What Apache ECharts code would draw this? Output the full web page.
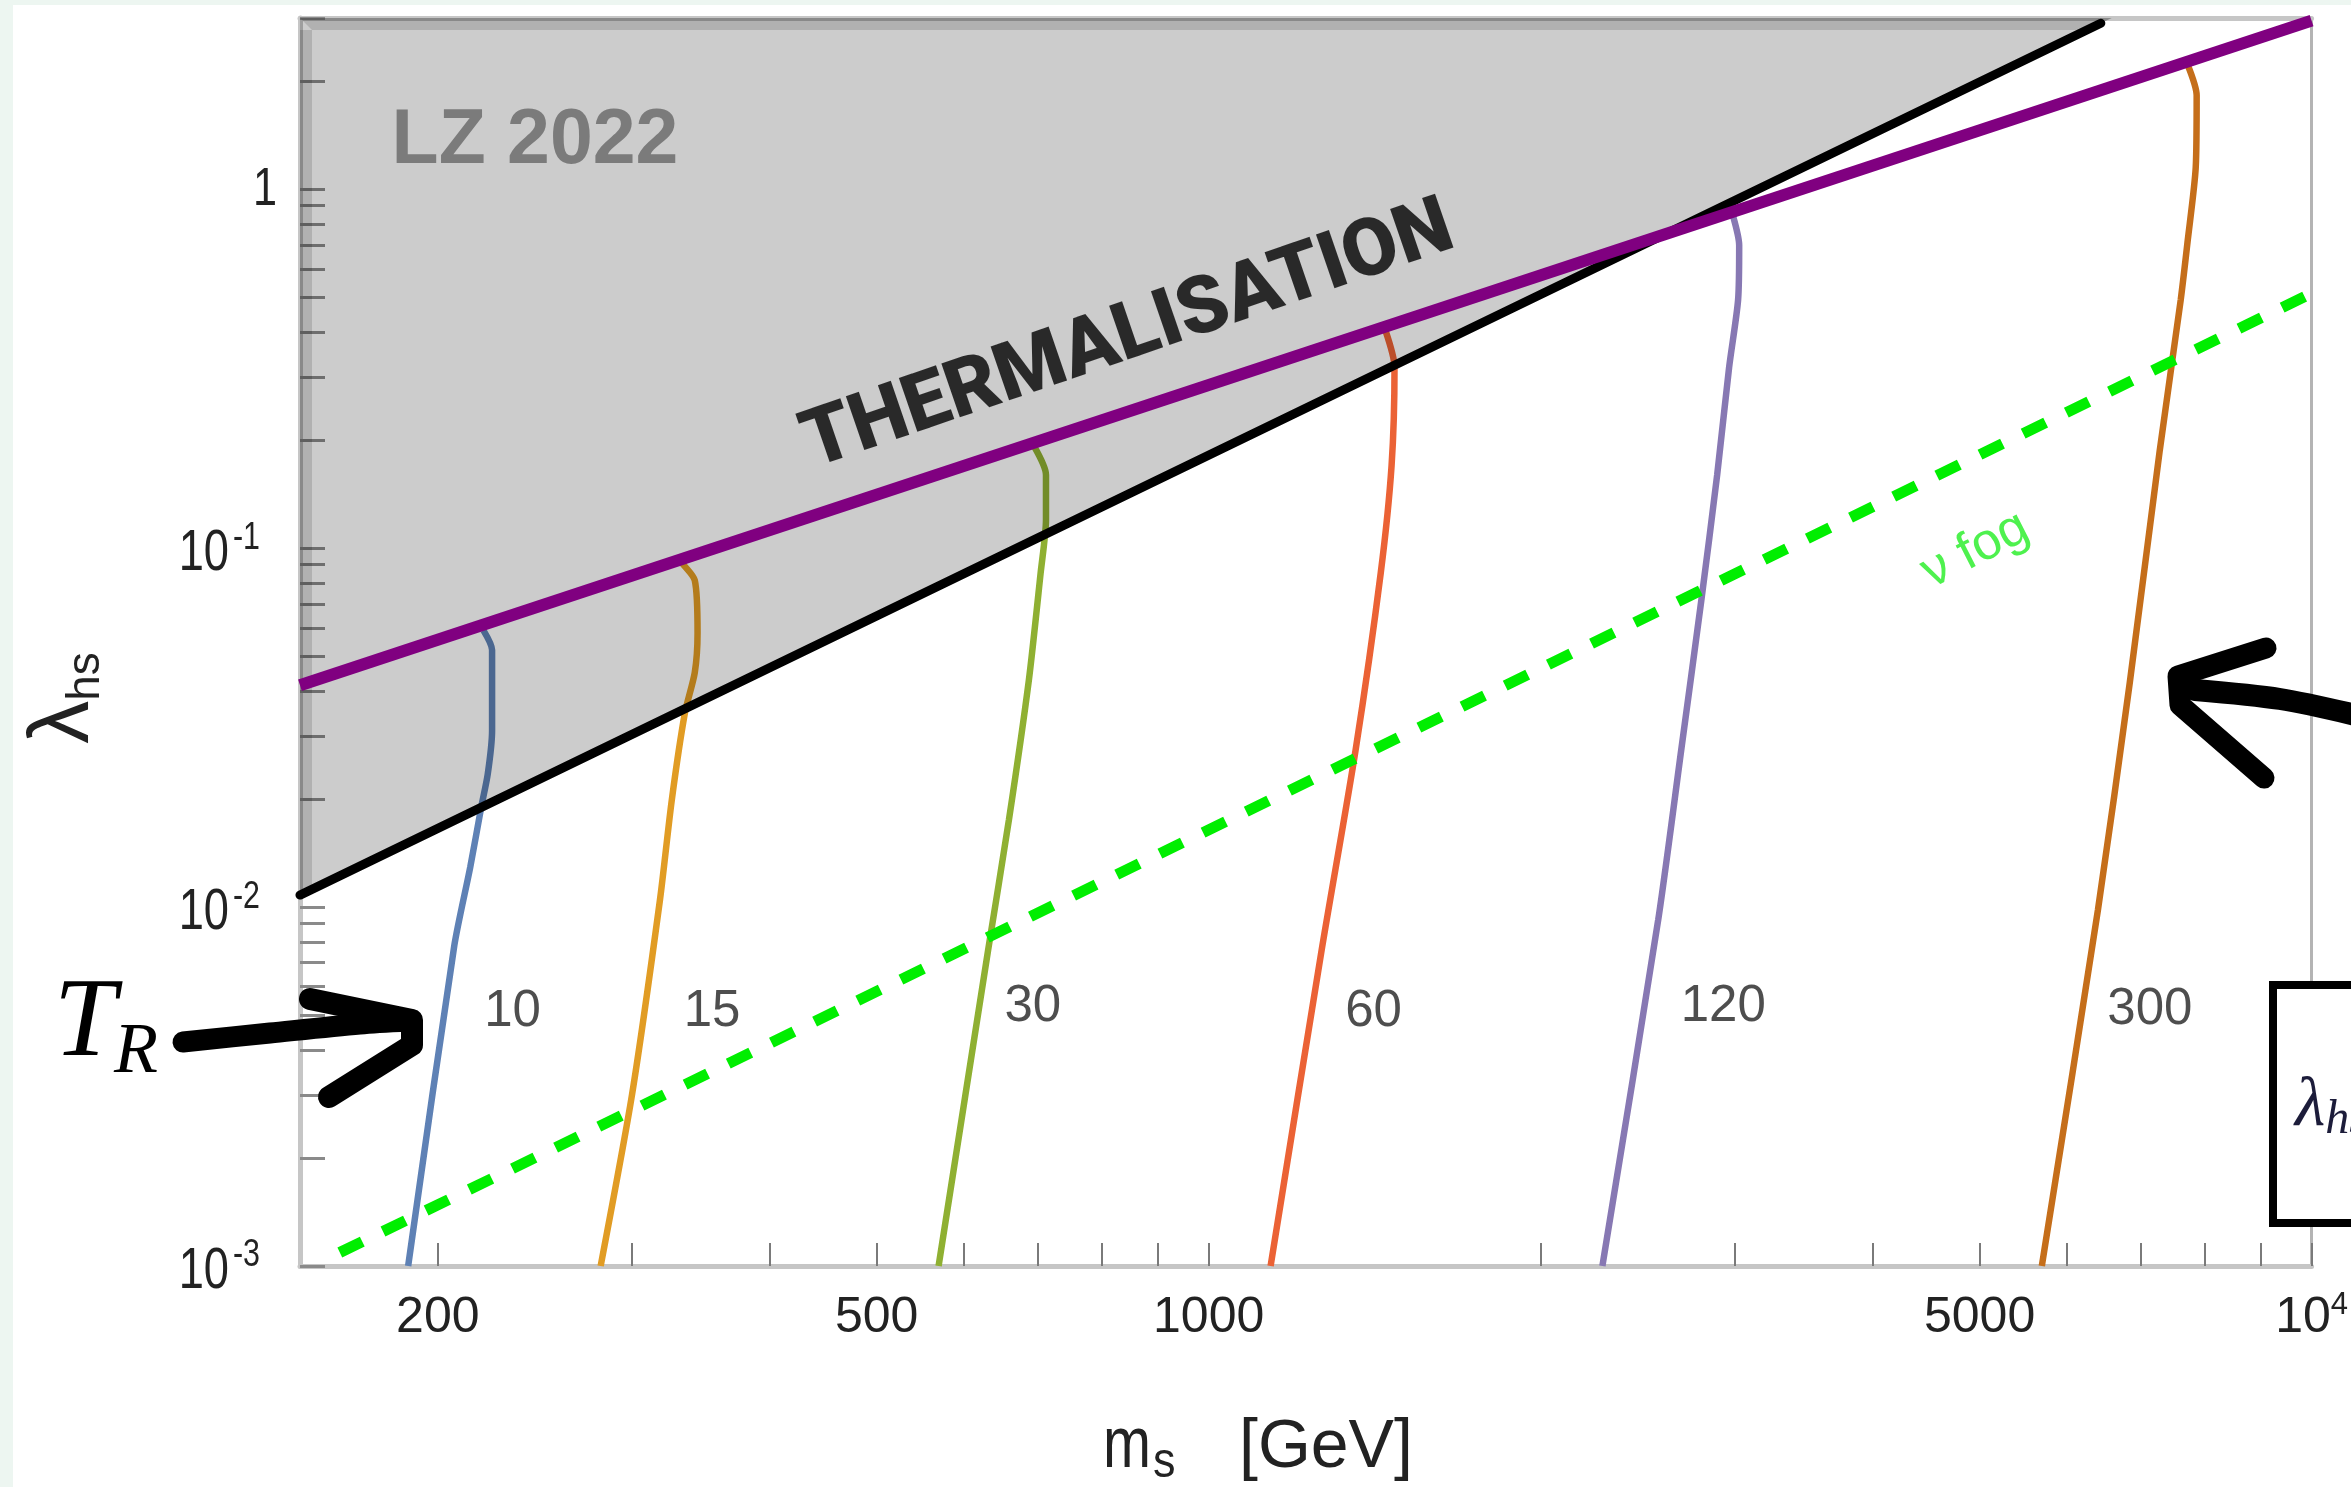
<!DOCTYPE html>
<html>
<head>
<meta charset="utf-8">
<script src="https://cdn.jsdelivr.net/npm/echarts@6/dist/echarts.min.js"></script>
<style>
html,body{margin:0;padding:0;background:#edf6f1;}
#chart{width:2351px;height:1487px;}
</style>
</head>
<body>
<div id="chart"></div>
<script>
// ---------------- data ----------------
const X_MIN = 150, X_MAX = 10000;
const Y_MIN = 0.001, Y_MAX = 3;
const X_TICKS = [200,300,400,500,600,700,800,900,1000,2000,3000,4000,5000,6000,7000,8000,9000,10000];
const X_LABELS = [200,500,1000,5000,10000];
const Y_TICKS = [0.001,0.002,0.003,0.004,0.005,0.006,0.007,0.008,0.009,
                 0.01,0.02,0.03,0.04,0.05,0.06,0.07,0.08,0.09,
                 0.1,0.2,0.3,0.4,0.5,0.6,0.7,0.8,0.9,1,2,3];
const Y_LABELS = [0.001,0.01,0.1,1];

// reheating temperature curves T_R (GeV): [m_s, lambda_hs]
const T_NAMES  = ['10','15','30','60','120','300'];
const T_COLORS = ['#5E81B5','#E19C24','#8FB032','#EB6235','#8778B3','#C56E1A'];
const T10  = [[188,0.001],[207,0.0078],[214,0.0129],[219,0.019],[222,0.0235],[224,0.031],[224,0.052],[220,0.059]];
const T15  = [[281,0.001],[300,0.003],[318,0.01045],[326,0.0199],[335,0.0347],[342,0.045],[344,0.058],[342,0.0814],[332,0.0915]];
const T30  = [[569,0.001],[631,0.00759],[659,0.0175],[687,0.0429],[704,0.085],[712,0.12],[712,0.16],[694,0.193]];
const T60  = [[1138,0.001],[1266,0.00759],[1359,0.0274],[1432,0.085],[1465,0.17],[1474,0.32],[1446,0.405]];
const T120 = [[2275,0.001],[2556,0.0092],[2682,0.0274],[2797,0.0716],[2891,0.16],[2964,0.319],[3020,0.491],[3027,0.698],[2989,0.84]];
const T300 = [[5694,0.001],[6401,0.0098],[6841,0.0421],[7284,0.1875],[7609,0.491],[7722,0.721],[7852,1.152],[7867,1.827],[7722,2.22]];
const T_CURVES = [T10,T15,T30,T60,T120,T300];
const T_LABEL_POS = [[233.8,0.0051],[354.6,0.0051],[692.7,0.00526],[1411,0.0051],[2928,0.00526],[7134,0.00516]];

// bounds
const THERMALISATION = [[150,0.0415],[10000,2.95]];
const LZ2022 = [[150,0.0108],[6440,2.90]];
const NU_FOG = [[163,0.00109],[10000,0.513]];

// annotation anchors (data coordinates)
const LZ_TEXT_POS = [245,1.36];
const THERM_TEXT_POS = [846,0.385];
const FOG_TEXT_POS = [4955,0.0987];

// ---------------- chart ----------------
const SANS = '"Liberation Sans", Arial, sans-serif';
const SERIF = '"Liberation Serif", "DejaVu Serif", serif';

const chart = echarts.init(document.getElementById('chart'), null, {renderer:'canvas'});

const curveSeries = T_CURVES.map((pts,i)=>({
  type:'line', name:'T' + T_NAMES[i], data:pts, symbol:'none', showSymbol:false,
  smooth:0.25, z:2, silent:true, clip:true,
  lineStyle:{color:T_COLORS[i], width:6.5}
}));

const overlaySeries = {
  type:'custom', z:3, silent:true, clip:false,
  data:[LZ2022[0]],
  renderItem:function(params, api){
    const p0 = api.coord(LZ2022[0]);
    const p1 = api.coord(LZ2022[1]);
    const tl = api.coord([X_MIN, Y_MAX]);
    const left = tl[0], top = tl[1];
    const s = (p1[0]-p0[0])/(p1[1]-p0[1]);
    const xTop = p1[0] + (top - p1[1]) * s;
    const bw = 12;
    const xBand = p1[0] + (top + bw - p1[1]) * s;
    const yBand = p0[1] + bw / s;
    return {type:'group', children:[
      {type:'polygon', shape:{points:[p0,[xTop,top],[left,top]]}, style:{fill:'rgba(0,0,0,0.2)'}},
      {type:'polygon', shape:{points:[[left,top],[xTop,top],[xBand,top+bw],[left+bw,top+bw]]}, style:{fill:'rgba(0,0,0,0.13)'}},
      {type:'polygon', shape:{points:[[left,top+bw],[left+bw,top+bw],[left+bw,yBand],[left,p0[1]]]}, style:{fill:'rgba(0,0,0,0.13)'}}
    ]};
  }
};

const baseGraphic = [
  {type:'rect', z:-100, silent:true, shape:{x:13, y:5, width:2338, height:1482}, style:{fill:'#ffffff'}},
  // y axis title
  {type:'text', z:100, x:64, y:698, rotation:Math.PI/2, silent:true,
   style:{text:'{l|λ}{s|hs}', align:'center', verticalAlign:'middle',
     rich:{l:{fontSize:86, fontFamily:SANS, fill:'#222', lineHeight:90},
           s:{fontSize:46, fontFamily:SANS, fill:'#222', lineHeight:46, verticalAlign:'bottom'}}}},
  // x axis title
  {type:'text', z:100, x:1103, y:1447, scaleX:0.8, silent:true,
   style:{text:'m', fontSize:72, fontFamily:SANS, fill:'#222', align:'left', verticalAlign:'middle'}},
  {type:'text', z:100, x:1153, y:1463, scaleX:0.9, silent:true,
   style:{text:'s', fontSize:50, fontFamily:SANS, fill:'#222', align:'left', verticalAlign:'middle'}},
  {type:'text', z:100, x:1239, y:1448, silent:true,
   style:{text:'[GeV]', fontSize:68, fontFamily:SANS, fill:'#222', align:'left', verticalAlign:'middle'}},
  // T_R annotation
  {type:'text', z:100, x:85, y:1026, silent:true,
   style:{text:'T', fontSize:112, fontStyle:'italic', fontFamily:SERIF, fill:'#000', align:'center', verticalAlign:'middle'}},
  {type:'text', z:100, x:136, y:1053, silent:true,
   style:{text:'R', fontSize:72, fontStyle:'italic', fontFamily:SERIF, fill:'#000', align:'center', verticalAlign:'middle'}},
  {type:'polyline', z:100, silent:true,
   shape:{points:[[183,1042],[270,1033],[360,1024],[408,1021]], smooth:0.3},
   style:{stroke:'#000', lineWidth:21, lineCap:'round', lineJoin:'round', fill:null}},
  {type:'polyline', z:100, silent:true,
   shape:{points:[[310,999],[412,1020],[412,1045],[329,1097]]},
   style:{stroke:'#000', lineWidth:22, lineCap:'round', lineJoin:'round', fill:null}},
  // right arrow
  {type:'polyline', z:100, silent:true,
   shape:{points:[[2195,690],[2280,699],[2360,716]], smooth:0.3},
   style:{stroke:'#000', lineWidth:22, lineCap:'round', lineJoin:'round', fill:null}},
  {type:'polyline', z:100, silent:true,
   shape:{points:[[2266,648],[2178,676],[2180,705],[2264,778]]},
   style:{stroke:'#000', lineWidth:21, lineCap:'round', lineJoin:'round', fill:null}},
  // right box
  {type:'rect', z:100, silent:true, shape:{x:2273, y:985, width:150, height:238},
   style:{fill:'#fff', stroke:'#000', lineWidth:8}},
  {type:'text', z:101, x:2295, y:1107, silent:true,
   style:{text:'{l|λ}{s|hs}', align:'left', verticalAlign:'middle',
     rich:{l:{fontSize:70, fontStyle:'italic', fontFamily:SERIF, fill:'#1c1c3a', lineHeight:74},
           s:{fontSize:48, fontStyle:'italic', fontFamily:SERIF, fill:'#1c1c3a', lineHeight:48, verticalAlign:'bottom'}}}}
];

const option = {
  animation:false,
  backgroundColor:'#edf6f1',
  grid:{left:300, right:37, top:18, bottom:221, containLabel:false},
  xAxis:[{
    type:'log', logBase:10, min:X_MIN, max:X_MAX, position:'bottom',
    axisLine:{show:true, onZero:false, lineStyle:{color:'#c6c6c6', width:5}},
    axisTick:{show:true, inside:true, length:23, customValues:X_TICKS, lineStyle:{color:'#7a7a7a', width:2}},
    axisLabel:{show:true, customValues:X_LABELS, margin:24,
      formatter:function(v){
        if (Math.abs(v - 10000) < 1) return '{b|10}{s|4}';
        return '{b|' + Math.round(v) + '}';
      },
      rich:{
        b:{fontSize:50, fontFamily:SANS, color:'#222', lineHeight:56},
        s:{fontSize:31, fontFamily:SANS, color:'#222', lineHeight:28, verticalAlign:'top'}
      }
    },
    splitLine:{show:false}, minorTick:{show:false}, minorSplitLine:{show:false}
  },{
    type:'log', logBase:10, min:X_MIN, max:X_MAX, position:'top',
    axisLine:{show:true, onZero:false, lineStyle:{color:'#c6c6c6', width:5}},
    axisTick:{show:false}, axisLabel:{show:false}, splitLine:{show:false}
  }],
  yAxis:[{
    type:'log', logBase:10, min:Y_MIN, max:Y_MAX, position:'left',
    axisLine:{show:true, onZero:false, lineStyle:{color:'#c6c6c6', width:5}},
    axisTick:{show:true, inside:true, length:25, customValues:Y_TICKS, lineStyle:{color:'#8a8a8a', width:3}},
    axisLabel:{show:false},
    splitLine:{show:false}, minorTick:{show:false}, minorSplitLine:{show:false}
  },{
    type:'log', logBase:10, min:Y_MIN, max:Y_MAX, position:'right',
    axisLine:{show:true, onZero:false, lineStyle:{color:'#b4b4b4', width:3}},
    axisTick:{show:false}, axisLabel:{show:false}, splitLine:{show:false}
  }],
  series:[].concat(curveSeries, [
    overlaySeries,
    {type:'line', name:'nu fog', data:NU_FOG, symbol:'none', z:4, silent:true,
     lineStyle:{color:'#00ee00', width:11, type:[25,23], cap:'butt'}},
    {type:'line', name:'LZ 2022', data:LZ2022, symbol:'none', z:5, silent:true,
     lineStyle:{color:'#000', width:9, cap:'round'}},
    {type:'line', name:'thermalisation', data:THERMALISATION, symbol:'none', z:6, silent:true,
     lineStyle:{color:'#800080', width:12}},
    {type:'scatter', name:'T labels', symbolSize:0, z:10, silent:true,
     data:T_NAMES.map((n,i)=>({name:n, value:T_LABEL_POS[i]})),
     label:{show:true, position:'inside', formatter:'{b}', fontSize:51, color:'#222', fontFamily:SANS}},
    {type:'scatter', name:'texts', symbolSize:0, z:10, silent:true,
     data:[
       {name:'LZ 2022', value:LZ_TEXT_POS,
        label:{show:true, position:'inside', formatter:'{b}', fontSize:77, fontWeight:'bold', color:'#666666', fontFamily:SANS}},
       {name:'THERMALISATION', value:THERM_TEXT_POS,
        label:{show:true, position:'inside', formatter:'{b}', fontSize:80, fontWeight:900, color:'#000', fontFamily:'Roboto, "Open Sans", sans-serif', rotate:19}},
       {name:'ν fog', value:FOG_TEXT_POS,
        label:{show:true, position:'inside', formatter:'{b}', fontSize:52, color:'#22ee22', fontFamily:SANS, rotate:27}}
     ]}
  ]),
  graphic:baseGraphic
};
chart.setOption(option);

// y tick labels (condensed, with superscript exponents) placed through the y axis scale
const yLabelGraphic = [];
Y_LABELS.forEach(function(v){
  const py = chart.convertToPixel({yAxisIndex:0}, v);
  const e = Math.round(Math.log10(v));
  if (e === 0) {
    yLabelGraphic.push({type:'text', z:100, silent:true, x:277, y:py+1, scaleX:0.8,
      style:{text:'1', fontSize:54, fontFamily:SANS, fill:'#222', align:'right', verticalAlign:'middle'}});
  } else {
    yLabelGraphic.push({type:'text', z:100, silent:true, x:229, y:py+6, scaleX:0.78,
      style:{text:'10', fontSize:58, fontFamily:SANS, fill:'#222', align:'right', verticalAlign:'middle'}});
    yLabelGraphic.push({type:'text', z:100, silent:true, x:233, y:py-10, scaleX:0.8,
      style:{text:String(e), fontSize:38, fontFamily:SANS, fill:'#222', align:'left', verticalAlign:'middle'}});
  }
});
chart.setOption({graphic: baseGraphic.concat(yLabelGraphic)});
</script>
</body>
</html>
